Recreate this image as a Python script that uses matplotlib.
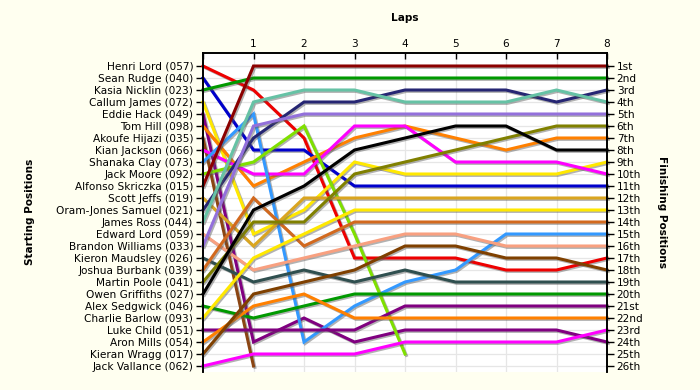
import matplotlib
matplotlib.use("Agg")
import matplotlib.pyplot as plt
import matplotlib.patheffects as pe

laps = [0, 1, 2, 3, 4, 5, 6, 7, 8]
lap_labels = ["", "1", "2", "3", "4", "5", "6", "7", "8"]

drivers = [
    "Henri Lord (057)", "Sean Rudge (040)", "Kasia Nicklin (023)", "Callum James (072)",
    "Eddie Hack (049)", "Tom Hill (098)", "Akoufe Hijazi (035)", "Kian Jackson (066)",
    "Shanaka Clay (073)", "Jack Moore (092)", "Alfonso Skriczka (015)", "Scott Jeffs (019)",
    "Oram-Jones Samuel (021)", "James Ross (044)", "Edward Lord (059)", "Brandon Williams (033)",
    "Kieron Maudsley (026)", "Joshua Burbank (039)", "Martin Poole (041)", "Owen Griffiths (027)",
    "Alex Sedgwick (046)", "Charlie Barlow (093)", "Luke Child (051)", "Aron Mills (054)",
    "Kieran Wragg (017)", "Jack Vallance (062)",
]

finish_labels = ["1st", "2nd", "3rd", "4th", "5th", "6th", "7th", "8th", "9th", "10th",
                 "11th", "12th", "13th", "14th", "15th", "16th", "17th", "18th", "19th",
                 "20th", "21st", "22nd", "23rd", "24th", "25th", "26th"]

# position of each driver at the end of each lap (lap 0 = grid)
henri_lord = [1, 3, 7, 17, 17, 17, 18, 18, 17]
sean_rudge = [2, 8, 8, 11, 11, 11, 11, 11, 11]
kasia_nicklin = [3, 2, 2, 2, 2, 2, 2, 2, 2]
callum_james = [4, 15, 13, 9, 10, 10, 10, 10, 9]
eddie_hack = [5, 24, 22, 24, 23, 23, 23, 23, 24]
tom_hill = [6, 11, 9, 7, 6, 7, 8, 7, 7]
akoufe_hijazi = [7, 26]
kian_jackson = [8, 10, 10, 6, 6, 9, 9, 9, 10]
shanaka_clay = [9, 5, 24, 21, 19, 18, 15, 15, 15]
jack_moore = [10, 9, 6, 15, 25]
alfonso_skriczka = [11, 1, 1, 1, 1, 1, 1, 1, 1]
scott_jeffs = [12, 16, 12, 12, 12, 12, 12, 12, 12]
oram_jones_samuel = [13, 7, 4, 4, 3, 3, 3, 4, 3]
james_ross = [14, 4, 3, 3, 4, 4, 4, 3, 4]
edward_lord = [15, 18, 17, 16, 15, 15, 16, 16, 16]
brandon_williams = [16, 6, 5, 5, 5, 5, 5, 5, 5]
kieron_maudsley = [17, 19, 18, 19, 18, 19, 19, 19, 19]
joshua_burbank = [18, 12, 16, 14, 14, 14, 14, 14, 14]
martin_poole = [19, 14, 14, 10, 9, 8, 7, 6, 6]
owen_griffiths = [20, 13, 11, 8, 7, 6, 6, 8, 8]
alex_sedgwick = [21, 22, 21, 20, 20, 20, 20, 20, 20]
charlie_barlow = [22, 17, 15, 13, 13, 13, 13, 13, 13]
luke_child = [23, 23, 23, 23, 21, 21, 21, 21, 21]
aron_mills = [24, 21, 20, 22, 22, 22, 22, 22, 22]
kieran_wragg = [25, 20, 19, 18, 16, 16, 17, 17, 18]
jack_vallance = [26, 25, 25, 25, 24, 24, 24, 24, 23]

series = [henri_lord, sean_rudge, kasia_nicklin, callum_james, eddie_hack, tom_hill,
          akoufe_hijazi, kian_jackson, shanaka_clay, jack_moore, alfonso_skriczka,
          scott_jeffs, oram_jones_samuel, james_ross, edward_lord, brandon_williams,
          kieron_maudsley, joshua_burbank, martin_poole, owen_griffiths, alex_sedgwick,
          charlie_barlow, luke_child, aron_mills, kieran_wragg, jack_vallance]

colors = ["#EE0000", "#0000CC", "#009900", "#FFE800", "#800080", "#FF8000",
          "#8B4513", "#FF00FF", "#3399FF", "#7FE000", "#8B0000",
          "#DAA520", "#262673", "#66C2A5", "#F8A080", "#9370DB",
          "#2F4F4F", "#D2691E", "#808000", "#000000", "#009900",
          "#FFE800", "#800080", "#FF8000", "#7F4000", "#FF00FF"]

bg = "#FFFFF0"
fig = plt.figure(figsize=(7, 3.9), dpi=100, facecolor=bg)
ax = fig.add_axes([203/700, 1-372/390, (607-203)/700, (372-53)/390])
ax.set_facecolor("white")

n = len(drivers)
ax.set_xlim(0, 8)
ax.set_ylim(26.5, 1 - 13/12)

for y in range(1, n + 1):
    ax.axhline(y, color="#E6E6E6", lw=0.9, zorder=0)
for x in laps[1:-1]:
    ax.axvline(x, color="#E6E6E6", lw=0.9, zorder=0)

shadow = [pe.SimpleLineShadow(offset=(1.0, -1.0), shadow_color="#555555", alpha=0.45), pe.Normal()]
for vals, c in zip(series, colors):
    ax.plot(laps[:len(vals)], vals, color=c, lw=2.2, solid_joinstyle="miter",
            path_effects=shadow, zorder=2, clip_on=False)

# left axis: starting positions
ax.set_yticks(range(1, n + 1))
ax.set_yticklabels(drivers, fontsize=7.6)
ax.tick_params(axis="y", which="both", direction="out", length=5, width=1, pad=2,
               left=True, right=False)

# right axis: finishing positions
ax2 = ax.twinx()
ax2.set_ylim(ax.get_ylim())
ax2.set_yticks(range(1, n + 1))
ax2.set_yticklabels(finish_labels, fontsize=7.6)
ax2.tick_params(axis="y", direction="out", length=5, width=1, pad=2)

# top axis: laps
ax.xaxis.tick_top()
ax.set_xticks(laps)
ax.set_xticklabels(lap_labels, fontsize=7.6)
ax.tick_params(axis="x", direction="in", length=4, width=1, pad=3)

for a in (ax, ax2):
    a.spines["bottom"].set_visible(False)
    for s in ("top", "left", "right"):
        a.spines[s].set_linewidth(1.2)
        a.spines[s].set_color("black")

fig.text(405/700, 1-18/390, "Laps", ha="center", va="center", fontsize=7.6, weight="bold")
fig.text(30/700, 1-212/390, "Starting Positions", ha="center", va="center",
         rotation=90, fontsize=7.6, weight="bold")
fig.text(662/700, 1-212/390, "Finishing Positions", ha="center", va="center",
         rotation=270, fontsize=7.6, weight="bold")

fig.savefig("out.png", dpi=100, facecolor=bg)
